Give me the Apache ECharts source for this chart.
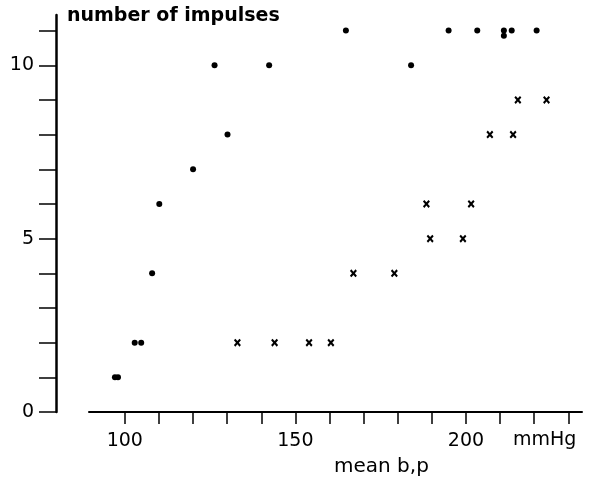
<!DOCTYPE html>
<html>
<head>
<meta charset="utf-8">
<script src="https://cdn.jsdelivr.net/npm/echarts@6/dist/echarts.min.js"></script>
<style>
  html, body { margin: 0; padding: 0; background: #fff; }
  #chart { width: 591px; height: 485px; }
</style>
</head>
<body>
<div id="chart"></div>
<script>
// Dots series (mean b.p in mmHg, number of impulses)
const dotX = [97.1, 98.0, 102.9, 104.8, 108.0, 110.1, 120.0, 126.3, 130.1, 142.3, 164.8, 183.9, 194.9, 203.3, 211.1, 211.1, 213.4, 220.7];
const dotY = [1, 1, 2, 2, 4, 6, 7, 10, 8, 10, 11, 10, 11, 11, 11, 10.85, 11, 11];
// Crosses series
const crossX = [133.0, 143.9, 154.0, 160.4, 167.0, 179.0, 189.5, 199.1, 188.4, 201.5, 207.0, 213.8, 215.2, 223.6];
const crossY = [2, 2, 2, 2, 4, 4, 5, 5, 6, 6, 8, 8, 9, 9];
// Axis ticks and labels
const xTicks = [100, 110, 120, 130, 140, 150, 160, 170, 180, 190, 200, 210, 220, 230];
const xLabels = [100, 150, 200];
const yTicks = [0, 1, 2, 3, 4, 5, 6, 7, 8, 9, 10, 11];
const yLabels = [0, 5, 10];
const yTitle = 'number of impulses';
const xTitle = 'mean b,p';
const xUnit = 'mmHg';

const chart = echarts.init(document.getElementById('chart'), null, { renderer: 'canvas' });
const font = 'DejaVu Sans';
const crossPath = 'path://M0,2 L2,0 L5,3 L8,0 L10,2 L7,5 L10,8 L8,10 L5,7 L2,10 L0,8 L3,5 Z';

chart.setOption({
  animation: false,
  backgroundColor: '#fff',
  grid: { left: 89, right: 9, top: 15, bottom: 73 },
  xAxis: {
    type: 'value', min: 89.5, max: 234,
    axisLine: { show: true, lineStyle: { color: '#000', width: 2 } },
    axisTick: { show: true, inside: false, length: 12, customValues: xTicks, lineStyle: { color: '#000', width: 1.5 } },
    axisLabel: { customValues: xLabels, margin: 20, color: '#000', fontFamily: font, fontSize: 19 },
    splitLine: { show: false }
  },
  yAxis: {
    type: 'value', min: 0, max: 11.45, offset: 33,
    axisLine: { show: true, lineStyle: { color: '#000', width: 2.5 } },
    axisTick: { show: true, inside: false, length: 17, customValues: yTicks, lineStyle: { color: '#000', width: 1.5 } },
    axisLabel: { customValues: yLabels, margin: 22, color: '#000', fontFamily: font, fontSize: 19 },
    splitLine: { show: false }
  },
  graphic: [
    { type: 'text', left: 67, top: 7, style: { text: yTitle, fill: '#000', font: 'bold 19px "DejaVu Sans"' } },
    { type: 'text', left: 513, top: 431, style: { text: xUnit, fill: '#000', font: '19px "DejaVu Sans"' } },
    { type: 'text', left: 334, top: 457, style: { text: xTitle, fill: '#000', font: '20px "DejaVu Sans"' } }
  ],
  series: [
    {
      type: 'scatter', symbol: 'circle', symbolSize: 6,
      itemStyle: { color: '#000', opacity: 1 },
      data: dotX.map((x, i) => [x, dotY[i]])
    },
    {
      type: 'scatter', symbol: crossPath, symbolSize: [7, 8],
      itemStyle: { color: '#000', opacity: 1 },
      data: crossX.map((x, i) => [x, crossY[i]])
    }
  ]
});
</script>
</body>
</html>
